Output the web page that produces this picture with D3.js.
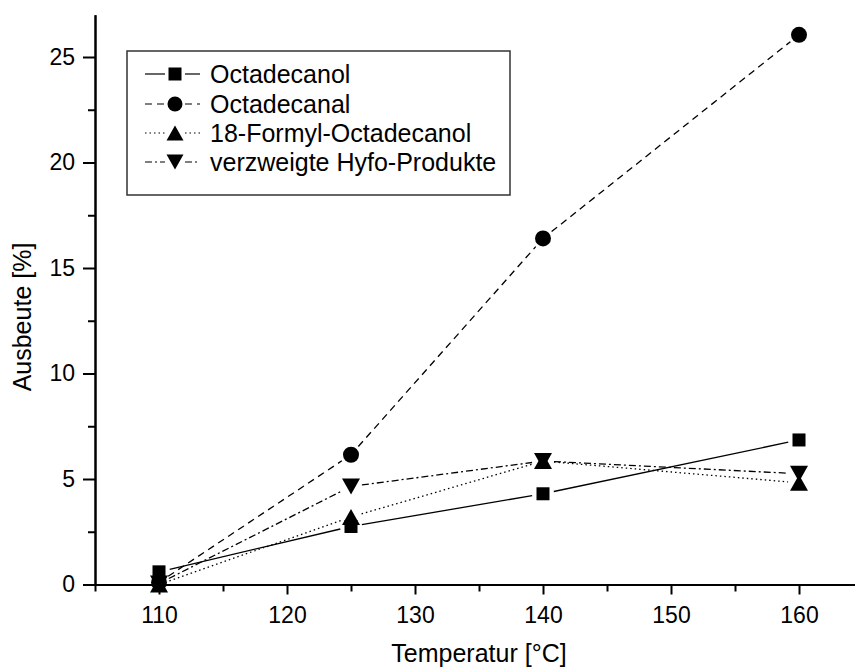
<!DOCTYPE html>
<html>
<head>
<meta charset="utf-8">
<script src="https://cdn.jsdelivr.net/npm/d3@7"></script>
<style>
  html, body { margin: 0; padding: 0; background: #fff; }
  svg { display: block; }
  text { font-family: "Liberation Sans", Arial, sans-serif; fill: #000; }
</style>
</head>
<body>
<svg id="chart" width="855" height="668"></svg>
<script>
// Temperatures (°C) and yields (%) for each product
const temperatures = [110, 125, 140, 160];
const octadecanol = [0.6, 2.75, 4.3, 6.85];
const octadecanal = [0.1, 6.15, 16.4, 26.05];
const formylOctadecanol = [0.0, 3.2, 5.85, 4.82];
const verzweigteHyfo = [0.05, 4.65, 5.85, 5.25];

const seriesNames = ["Octadecanol", "Octadecanal", "18-Formyl-Octadecanol", "verzweigte Hyfo-Produkte"];
const xMajorTicks = [110, 120, 130, 140, 150, 160];
const xMinorTicks = [105, 115, 125, 135, 145, 155, 165];
const yMajorTicks = [0, 5, 10, 15, 20, 25];
const yMinorTicks = [2.5, 7.5, 12.5, 17.5, 22.5];

const svg = d3.select("#chart");

const x = d3.scaleLinear().domain([105, 165]).range([95, 863]);
const y = d3.scaleLinear().domain([0, 27]).range([584.5, 14.8]);

// symbol + line style per series
const styles = [
  { symbol: "square", dash: null },
  { symbol: "circle", dash: "7,5" },
  { symbol: "up", dash: "1.5,3" },
  { symbol: "down", dash: "7,3,2,3" }
];
const seriesValues = [octadecanol, octadecanal, formylOctadecanol, verzweigteHyfo];

function drawSymbol(g, kind, cx, cy, s) {
  if (kind === "square") {
    g.append("rect").attr("x", cx - s.sq / 2).attr("y", cy - s.sq / 2)
      .attr("width", s.sq).attr("height", s.sq).attr("fill", "#000");
  } else if (kind === "circle") {
    g.append("circle").attr("cx", cx).attr("cy", cy).attr("r", s.r).attr("fill", "#000");
  } else if (kind === "up") {
    const w = s.tw / 2, h = s.th / 2;
    g.append("path").attr("d", `M${cx},${cy - h}L${cx + w},${cy + h}L${cx - w},${cy + h}Z`).attr("fill", "#000");
  } else {
    const w = s.tw / 2, h = s.th / 2;
    g.append("path").attr("d", `M${cx - w},${cy - h}L${cx + w},${cy - h}L${cx},${cy + h}Z`).attr("fill", "#000");
  }
}

// ---- axes ----
const axisStyle = g => {
  g.selectAll("path.domain").attr("stroke", "#000").attr("stroke-width", 2);
  g.selectAll(".tick line").attr("stroke", "#000").attr("stroke-width", 2);
  g.selectAll("text").style("font-size", "23px").attr("fill", "#000")
    .style("font-family", "'Liberation Sans', Arial, sans-serif");
};

svg.append("g").attr("transform", `translate(0,${y(0)})`)
  .call(d3.axisBottom(x).tickValues(xMinorTicks).tickSize(7).tickSizeOuter(0).tickFormat(""))
  .call(axisStyle);
svg.append("g").attr("transform", `translate(0,${y(0)})`)
  .call(d3.axisBottom(x).tickValues(xMajorTicks).tickSize(10).tickSizeOuter(0).tickPadding(12).tickFormat(d3.format("d")))
  .call(axisStyle);

svg.append("g").attr("transform", `translate(${x(105)},0)`)
  .call(d3.axisLeft(y).tickValues(yMinorTicks).tickSize(7).tickSizeOuter(0).tickFormat(""))
  .call(axisStyle);
svg.append("g").attr("transform", `translate(${x(105)},0)`)
  .call(d3.axisLeft(y).tickValues(yMajorTicks).tickSize(12).tickSizeOuter(0).tickPadding(8).tickFormat(d3.format("d")))
  .call(axisStyle);

// axis titles
svg.append("text").attr("x", x(135)).attr("y", 662).attr("text-anchor", "middle")
  .style("font-size", "25px").text("Temperatur [°C]");
svg.append("text").attr("transform", "translate(31,317) rotate(-90)").attr("text-anchor", "middle")
  .style("font-size", "25px").text("Ausbeute [%]");

// ---- series lines (with small gaps around the symbols) ----
const gap = 11;
const lineGen = d3.line();
seriesValues.forEach((vals, i) => {
  const pts = temperatures.map((t, j) => [x(t), y(vals[j])]);
  const g = svg.append("g");
  for (let j = 0; j < pts.length - 1; j++) {
    const [x0, y0] = pts[j], [x1, y1] = pts[j + 1];
    const len = Math.hypot(x1 - x0, y1 - y0);
    if (len <= 2 * gap) continue;
    const ux = (x1 - x0) / len, uy = (y1 - y0) / len;
    g.append("path")
      .attr("d", lineGen([[x0 + ux * gap, y0 + uy * gap], [x1 - ux * gap, y1 - uy * gap]]))
      .attr("fill", "none").attr("stroke", "#000").attr("stroke-width", 1.3)
      .attr("stroke-dasharray", styles[i].dash);
  }
});

// ---- symbols ----
const plotSym = { sq: 13, r: 8, tw: 18, th: 16 };
seriesValues.forEach((vals, i) => {
  const g = svg.append("g");
  temperatures.forEach((t, j) => drawSymbol(g, styles[i].symbol, x(t), y(vals[j]), plotSym));
});

// ---- legend ----
const legend = svg.append("g");
legend.append("rect").attr("x", 127).attr("y", 51).attr("width", 383).attr("height", 144)
  .attr("fill", "#fff").attr("stroke", "#333").attr("stroke-width", 1.5);
const rowY = [74, 104, 133, 162];
const legSym = { sq: 13, r: 7.5, tw: 17, th: 15 };
seriesNames.forEach((name, i) => {
  const cy = rowY[i];
  [[145, 165], [185, 200]].forEach(([a, b]) => {
    legend.append("path").attr("d", lineGen([[a, cy], [b, cy]]))
      .attr("fill", "none").attr("stroke", "#000").attr("stroke-width", 1.2)
      .attr("stroke-dasharray", styles[i].dash);
  });
  drawSymbol(legend, styles[i].symbol, 175, cy, legSym);
  legend.append("text").attr("x", 210).attr("y", cy + 9).style("font-size", "25px").text(name);
});
</script>
</body>
</html>
